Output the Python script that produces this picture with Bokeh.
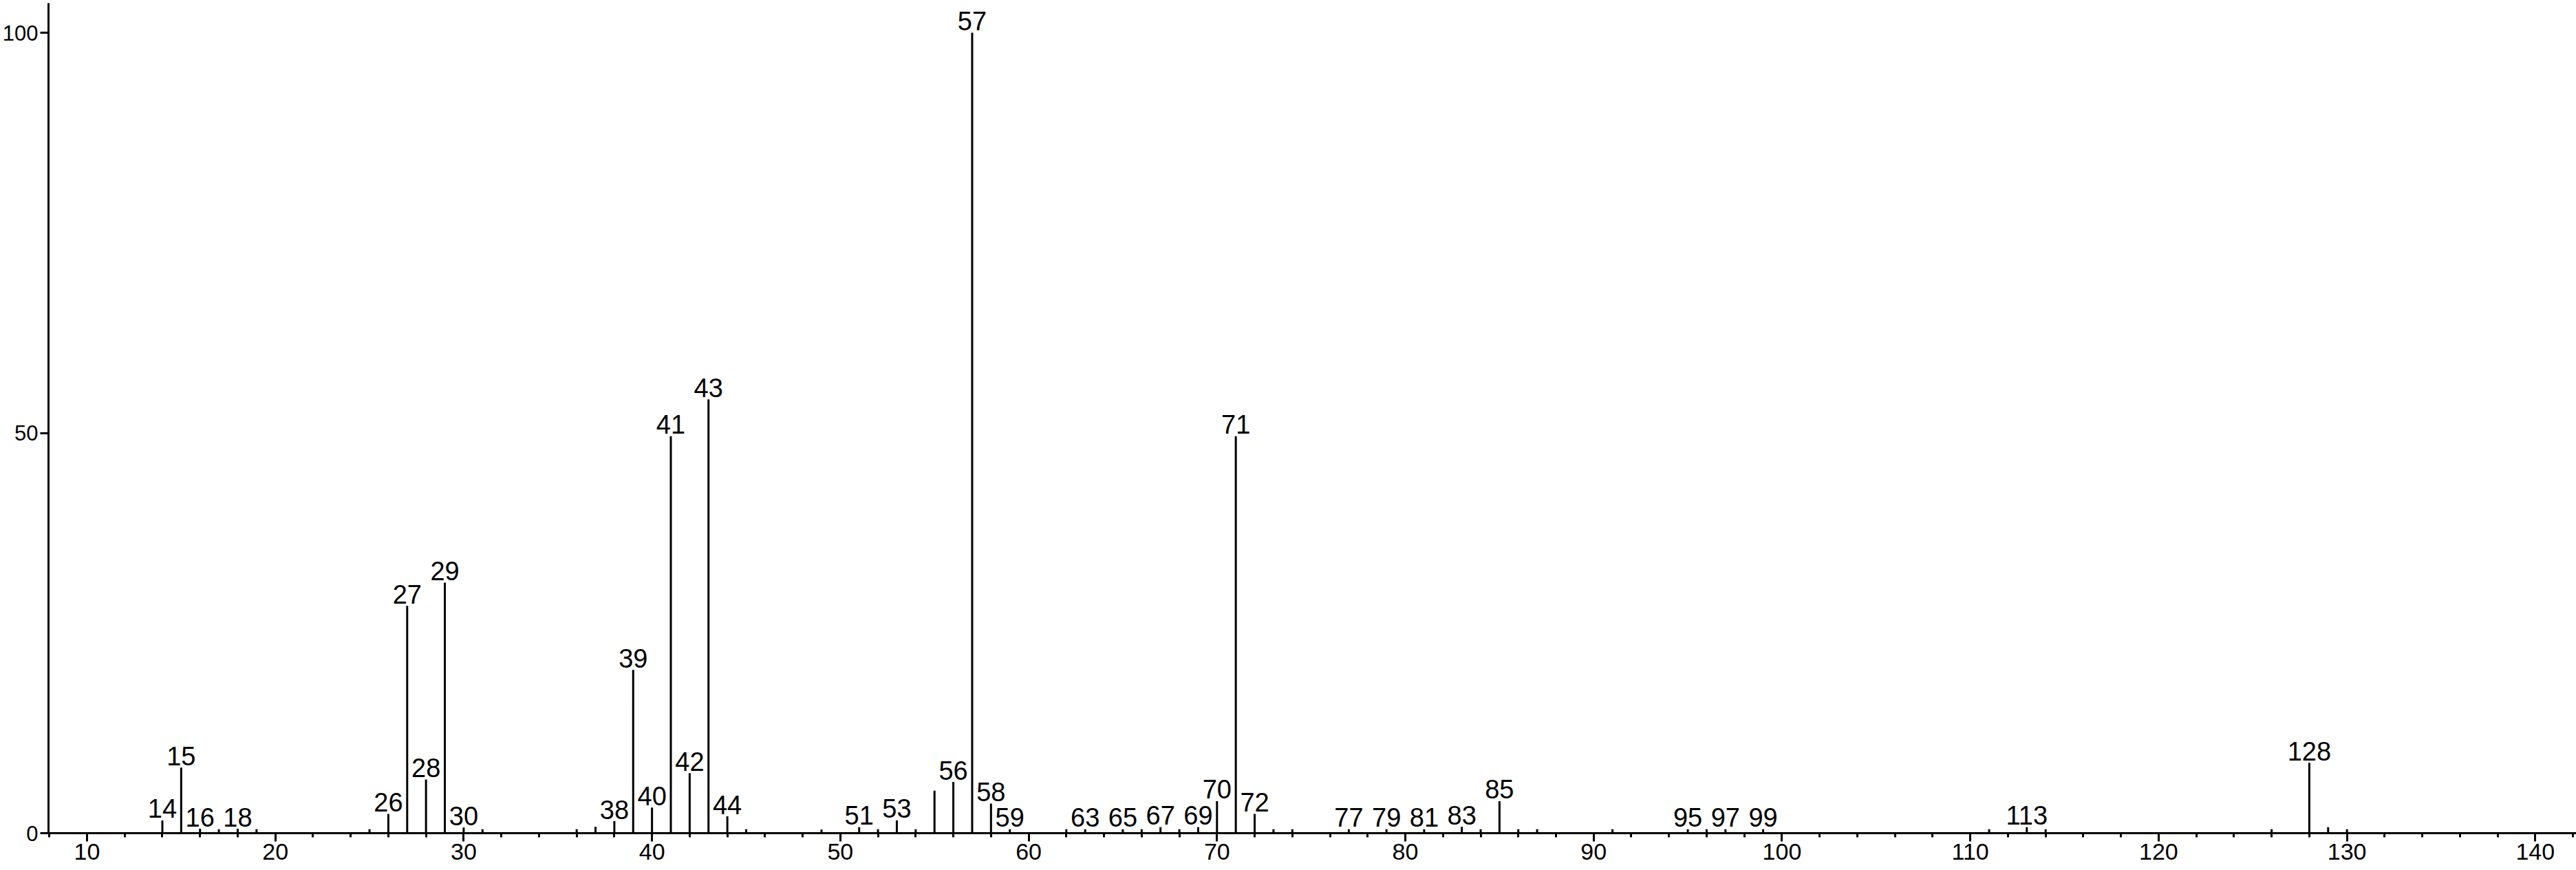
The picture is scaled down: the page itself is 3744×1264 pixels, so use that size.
from bokeh.plotting import figure
from bokeh.models import ColumnDataSource, Range1d, SingleIntervalTicker, FixedTicker
from bokeh.core.properties import value
from bokeh.embed import file_html
from bokeh.resources import INLINE

# m/z values and relative intensities (%)
mz = [14, 15, 16, 17, 18, 19, 25, 26, 27, 28, 29, 30, 31, 36, 37, 38, 39, 40, 41, 42,
      43, 44, 45, 49, 51, 52, 53, 54, 55, 56, 57, 58, 59, 62, 63, 65, 66, 67, 68, 69,
      70, 71, 72, 73, 74, 77, 79, 81, 83, 84, 85, 86, 87, 91, 95, 96, 97, 99, 111, 113,
      114, 126, 128, 129, 130]
intensity = [1.6, 8.2, 0.55, 0.5, 0.55, 0.5, 0.5, 2.4, 28.4, 6.7, 31.3, 0.7, 0.5, 0.5, 0.8, 1.5, 20.4, 3.2, 49.6, 7.5,
             54.2, 2.1, 0.5, 0.45, 0.75, 0.5, 1.6, 0.5, 5.3, 6.4, 100.0, 3.7, 0.5, 0.5, 0.5, 0.5, 0.5, 0.75, 0.5, 0.75,
             4.0, 49.6, 2.4, 0.5, 0.5, 0.5, 0.5, 0.5, 0.8, 0.5, 4.0, 0.5, 0.5, 0.5, 0.5, 0.5, 0.5, 0.5, 0.5, 0.75,
             0.5, 0.5, 8.8, 0.75, 0.5]

# labelled peaks
label_mz = [14, 15, 16, 18, 26, 27, 28, 29, 30, 38, 39, 40, 41, 42, 43, 44, 51, 53, 56, 57,
            58, 59, 63, 65, 67, 69, 70, 71, 72, 77, 79, 81, 83, 85, 95, 97, 99, 113, 128]

x_ticks_interval = 10
y_ticks = [0, 50, 100]

lookup = dict(zip(mz, intensity))
label_y = [lookup[m] for m in label_mz]
label_text = [str(m) for m in label_mz]

FONT = "Liberation Sans"

W, H = 3744, 1264
p = figure(width=W, height=H, output_backend="svg", toolbar_location=None,
           x_range=Range1d(7.955, 142.18), y_range=Range1d(0, 103.7),
           min_border_left=69, min_border_right=0, min_border_top=4, min_border_bottom=54)
p.outline_line_color = None
p.xgrid.visible = False
p.ygrid.visible = False
p.background_fill_color = "white"
p.border_fill_color = "white"

src = ColumnDataSource(dict(x=mz, y0=[0] * len(mz), y1=intensity))
p.segment(x0="x", y0="y0", x1="x", y1="y1", source=src, line_color="black", line_width=3)

lsrc = ColumnDataSource(dict(x=label_mz, y=label_y, t=label_text))
p.text(x="x", y="y", text="t", source=lsrc, text_align="center", text_baseline="alphabetic",
       y_offset=-17, text_font=value(FONT), text_font_size="38px", text_color="black")

xa = p.xaxis[0]
xa.ticker = SingleIntervalTicker(interval=x_ticks_interval, num_minor_ticks=5)
xa.axis_line_width = 3
xa.major_tick_line_width = 3
xa.minor_tick_line_width = 3
xa.major_tick_in = 0
xa.major_tick_out = 12
xa.minor_tick_in = 0
xa.minor_tick_out = 6
xa.major_label_standoff = 3
xa.major_label_text_font = FONT
xa.major_label_text_font_size = "34px"
xa.major_label_text_color = "black"

ya = p.yaxis[0]
ya.ticker = FixedTicker(ticks=y_ticks)
ya.axis_line_width = 3
ya.major_tick_line_width = 3
ya.minor_tick_line_color = None
ya.major_tick_in = 0
ya.major_tick_out = 12
ya.major_label_standoff = 3
ya.major_label_text_font = FONT
ya.major_label_text_font_size = "31px"
ya.major_label_text_color = "black"

open("out.html", "w").write(file_html(p, INLINE))
